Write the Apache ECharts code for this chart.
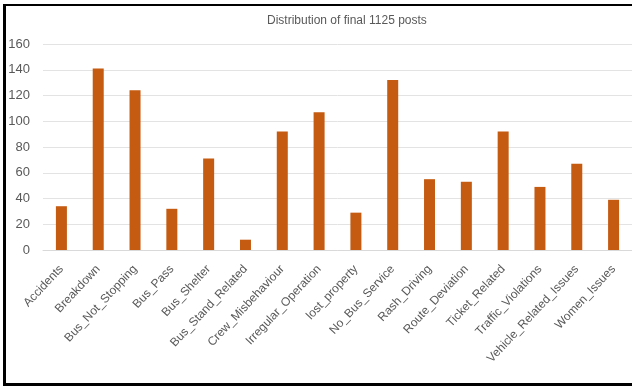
<!DOCTYPE html>
<html>
<head>
<meta charset="utf-8">
<script src="https://cdn.jsdelivr.net/npm/echarts@6/dist/echarts.min.js"></script>
<style>
  html, body { margin: 0; padding: 0; background: #fff; overflow: hidden; }
  #chart { position: absolute; left: 0; top: 0; width: 632px; height: 386px; }
  #frame {
    position: absolute; left: 3px; top: 4px; width: 640px; height: 377px;
    border-left: 3px solid #000; border-top: 2px solid #000; border-bottom: 3px solid #000;
    pointer-events: none;
  }
</style>
</head>
<body>
<div id="chart"></div>
<div id="frame"></div>
<script>
// Post counts per complaint category (1125 posts in total)
const categories = [
  'Accidents', 'Breakdown', 'Bus_Not_Stopping', 'Bus_Pass', 'Bus_Shelter',
  'Bus_Stand_Related', 'Crew_Misbehaviour', 'Irregular_Operation', 'lost_property',
  'No_Bus_Service', 'Rash_Driving', 'Route_Deviation', 'Ticket_Related',
  'Traffic_Violations', 'Vehicle_Related_Issues', 'Women_Issues'
];
const postCounts = [34, 141, 124, 32, 71, 8, 92, 107, 29, 132, 55, 53, 92, 49, 67, 39];
const titleText = 'Distribution of final 1125 posts';

const chart = echarts.init(document.getElementById('chart'), null, { renderer: 'canvas' });
const font = '"Liberation Sans Narrow", "Liberation Sans", sans-serif';

chart.setOption({
  animation: false,
  backgroundColor: '#ffffff',
  title: {
    text: titleText,
    left: 262,
    top: 10,
    textStyle: { fontFamily: font, fontSize: 12, fontWeight: 'normal', color: '#595959' }
  },
  grid: { left: 43, right: -11, top: 44, bottom: 136 },
  xAxis: {
    type: 'category',
    data: categories,
    axisLine: { show: true, lineStyle: { color: '#d9d9d9', width: 1 } },
    axisTick: { show: false },
    axisLabel: {
      interval: 0,
      rotate: 47,
      margin: 17,
      fontFamily: font,
      fontSize: 12,
      color: '#595959'
    }
  },
  yAxis: {
    type: 'value',
    min: 0,
    max: 160,
    interval: 20,
    axisLine: { show: false },
    axisTick: { show: false },
    axisLabel: { margin: 13, fontFamily: font, fontSize: 13, color: '#595959' },
    splitLine: { lineStyle: { color: '#e3e3e3', width: 1 } }
  },
  series: [{
    type: 'bar',
    data: postCounts,
    barWidth: 11,
    itemStyle: { color: '#c55a11' }
  }]
});
</script>
</body>
</html>
